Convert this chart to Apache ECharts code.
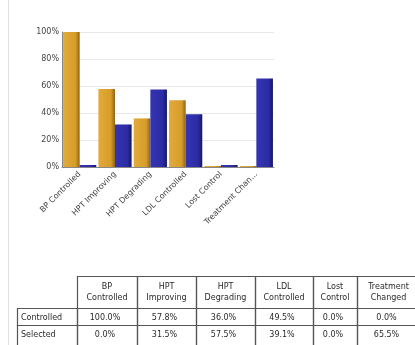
<!DOCTYPE html>
<html>
<head>
<meta charset="utf-8">
<script src="https://cdn.jsdelivr.net/npm/echarts@6/dist/echarts.min.js"></script>
<style>
  html, body { margin: 0; padding: 0; background: #fff; }
  #chart { width: 415px; height: 345px; }
</style>
</head>
<body>
<div id="chart"></div>
<script>
// Outcome categories (axis labels and table column headers)
const categories = ['BP Controlled', 'HPT Improving', 'HPT Degrading', 'LDL Controlled', 'Lost Control', 'Treatment Changed'];
const tableHeaders = ['BP\nControlled', 'HPT\nImproving', 'HPT\nDegrading', 'LDL\nControlled', 'Lost\nControl', 'Treatment\nChanged'];
// Percent of patients per group
const controlledValues = [100.0, 57.8, 36.0, 49.5, 0.0, 0.0];
const selectedValues = [0.0, 31.5, 57.5, 39.1, 0.0, 65.5];
const seriesNames = ['Controlled', 'Selected'];
const yTicks = [0, 20, 40, 60, 80, 100];

const FONT = '"DejaVu Sans", sans-serif';

// Table layout
const colEdges = [77, 137, 196, 255, 313, 357, 420];
const rowHeaderLeft = 17;
const headerTop = 276, headerBottom = 308, rowH = 17;

function barGradient(light, mid, dark) {
  return new echarts.graphic.LinearGradient(0, 0, 1, 0, [
    { offset: 0, color: light },
    { offset: 0.75, color: mid },
    { offset: 1, color: dark }
  ]);
}

const graphics = [];
// light frame line at the left
graphics.push({ type: 'rect', shape: { x: 8, y: 0, width: 1, height: 345 }, style: { fill: '#e0e0e0' }, silent: true });

const lineColor = '#555';
function cellRect(x, y, w, h) {
  graphics.push({ type: 'rect', shape: { x: x + 0.5, y: y + 0.5, width: w, height: h },
    style: { fill: 'none', stroke: lineColor, lineWidth: 1.2 }, silent: true });
}
function cellText(text, x, y, align) {
  graphics.push({ type: 'text', x: x, y: y, silent: true,
    style: { text: text, font: '8px ' + FONT, fill: '#2a2a2a', align: align, verticalAlign: 'middle', lineHeight: 11 } });
}

// header row
tableHeaders.forEach((h, i) => {
  const x0 = colEdges[i], x1 = colEdges[i + 1];
  cellRect(x0, headerTop, x1 - x0, headerBottom - headerTop);
  cellText(h, (x0 + x1) / 2, (headerTop + headerBottom) / 2, 'center');
});
// data rows
[controlledValues, selectedValues].forEach((vals, r) => {
  const y0 = headerBottom + r * rowH;
  const h = r === 1 ? rowH + 6 : rowH;
  cellRect(rowHeaderLeft, y0, colEdges[0] - rowHeaderLeft, h);
  cellText(seriesNames[r], rowHeaderLeft + 4, y0 + rowH / 2 + 1, 'left');
  vals.forEach((v, i) => {
    const x0 = colEdges[i], x1 = colEdges[i + 1];
    cellRect(x0, y0, x1 - x0, h);
    cellText(v.toFixed(1) + '%', (x0 + x1) / 2 - 2, y0 + rowH / 2 + 1, 'center');
  });
});

const chart = echarts.init(document.getElementById('chart'), null, { renderer: 'canvas' });
chart.setOption({
  animation: false,
  backgroundColor: '#fff',
  textStyle: { fontFamily: FONT },
  grid: { left: 62, right: 141, top: 32, bottom: 178, containLabel: false },
  xAxis: {
    type: 'category',
    data: categories,
    axisLine: { lineStyle: { color: '#888' } },
    axisTick: { show: false },
    axisLabel: {
      rotate: 45, interval: 0, fontSize: 8, color: '#444', margin: 6,
      formatter: v => v.length > 14 ? v.slice(0, 14) + '...' : v
    }
  },
  yAxis: {
    type: 'value', min: yTicks[0], max: yTicks[yTicks.length - 1], interval: 20,
    axisLine: { show: true, lineStyle: { color: '#888' } },
    axisTick: { show: false },
    axisLabel: { fontSize: 8, color: '#444', margin: 3, formatter: v => v + '%' },
    splitLine: { lineStyle: { color: '#e8e8e8' } }
  },
  series: [
    {
      name: seriesNames[0], type: 'bar', data: controlledValues,
      barGap: '0%', barCategoryGap: '6%', barMinHeight: 1,
      itemStyle: { color: barGradient('#E2AA3A', '#D69D2A', '#8E6416') }
    },
    {
      name: seriesNames[1], type: 'bar', data: selectedValues,
      barMinHeight: 2,
      itemStyle: { color: barGradient('#3535B4', '#2B2BA3', '#17175E') }
    }
  ],
  graphic: graphics
});
</script>
</body>
</html>
